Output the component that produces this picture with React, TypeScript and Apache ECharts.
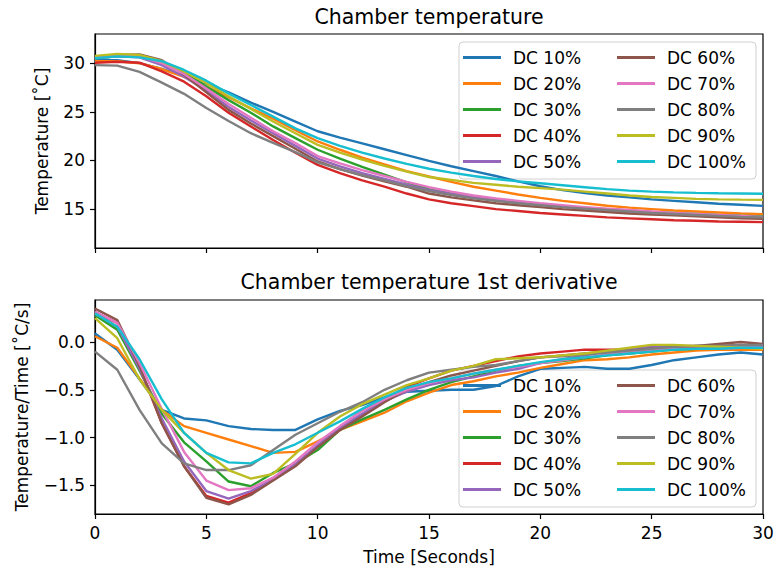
import React, { useEffect, useRef } from "react";
import * as echarts from "echarts";

const time = [0,1,2,3,4,5,6,7,8,9,10,11,12,13,14,15,16,17,18,19,20,21,22,23,24,25,26,27,28,29,30];
const names = ["DC 10%","DC 20%","DC 30%","DC 40%","DC 50%","DC 60%","DC 70%","DC 80%","DC 90%","DC 100%"];
const colors = ["#1f77b4","#ff7f0e","#2ca02c","#d62728","#9467bd","#8c564b","#e377c2","#7f7f7f","#bcbd22","#17becf"];

// Chamber temperature [°C]
const temp10 = [30.3,30.3,30.0,29.4,28.7,27.9,27.0,25.95,25.0,24.0,23.0,22.35,21.75,21.15,20.55,19.95,19.4,18.9,18.4,17.85,17.35,16.95,16.65,16.4,16.2,16.0,15.85,15.7,15.55,15.45,15.33];
const temp20 = [30.2,30.2,30.0,29.4,28.6,27.6,26.5,25.35,24.3,23.1,21.95,21.1,20.3,19.6,18.9,18.35,17.8,17.3,16.9,16.5,16.15,15.85,15.6,15.35,15.15,15.0,14.85,14.75,14.65,14.55,14.48];
const temp30 = [30.5,30.7,30.7,30.1,29.0,27.6,26.2,24.9,23.5,22.3,21.1,20.2,19.35,18.55,17.75,17.05,16.6,16.25,15.95,15.7,15.5,15.3,15.15,15.0,14.85,14.7,14.6,14.5,14.4,14.32,14.25];
const temp40 = [30.05,30.15,30.05,29.15,28.1,26.6,24.9,23.5,22.1,20.8,19.55,18.7,17.95,17.3,16.6,16.0,15.6,15.3,15.0,14.8,14.6,14.45,14.3,14.15,14.05,13.95,13.85,13.8,13.73,13.7,13.66];
const temp50 = [30.5,30.7,30.6,29.8,28.6,27.2,25.5,24.1,22.8,21.5,20.2,19.4,18.7,18.1,17.5,16.95,16.55,16.2,15.9,15.65,15.45,15.25,15.05,14.9,14.75,14.6,14.5,14.4,14.3,14.2,14.1];
const temp60 = [30.6,30.85,30.9,30.3,28.8,27.0,25.2,23.8,22.5,21.2,19.9,19.1,18.45,17.85,17.3,16.6,16.2,15.9,15.6,15.4,15.2,15.0,14.85,14.7,14.55,14.45,14.35,14.25,14.15,14.05,14.0];
const temp70 = [30.6,30.8,30.7,30.0,28.9,27.4,25.8,24.4,23.0,21.8,20.45,19.7,19.0,18.4,17.8,17.25,16.8,16.4,16.1,15.85,15.6,15.4,15.2,15.05,14.9,14.75,14.6,14.5,14.4,14.3,14.2];
const temp80 = [29.8,29.75,29.1,28.0,26.85,25.4,24.05,22.8,21.8,20.85,19.8,19.1,18.5,17.95,17.35,16.85,16.45,16.1,15.85,15.6,15.4,15.2,15.05,14.9,14.75,14.6,14.5,14.4,14.3,14.2,14.15];
const temp90 = [30.75,30.95,30.85,30.2,29.15,27.95,26.6,25.3,24.0,22.8,21.6,20.8,20.1,19.45,18.85,18.3,18.0,17.7,17.5,17.3,17.15,17.0,16.8,16.6,16.4,16.25,16.15,16.05,16.0,15.97,15.95];
const temp100 = [30.5,30.7,30.6,30.2,29.3,28.2,26.9,25.7,24.5,23.3,22.3,21.5,20.8,20.2,19.65,19.15,18.75,18.4,18.1,17.85,17.65,17.45,17.25,17.05,16.9,16.8,16.72,16.67,16.63,16.6,16.57];

// 1st derivative [°C/s]
const deriv10 = [0.09,-0.08,-0.39,-0.71,-0.80,-0.82,-0.88,-0.91,-0.92,-0.92,-0.81,-0.72,-0.66,-0.58,-0.52,-0.51,-0.50,-0.50,-0.46,-0.36,-0.28,-0.27,-0.26,-0.28,-0.28,-0.24,-0.19,-0.16,-0.13,-0.11,-0.13];
const deriv20 = [0.06,-0.06,-0.38,-0.71,-0.88,-0.95,-1.02,-1.09,-1.16,-1.15,-1.04,-0.92,-0.83,-0.74,-0.62,-0.53,-0.45,-0.41,-0.36,-0.32,-0.27,-0.23,-0.19,-0.18,-0.16,-0.13,-0.11,-0.09,-0.08,-0.08,-0.08];
const deriv30 = [0.28,0.13,-0.30,-0.75,-1.05,-1.25,-1.46,-1.51,-1.37,-1.27,-1.13,-0.92,-0.81,-0.71,-0.60,-0.50,-0.42,-0.36,-0.30,-0.25,-0.22,-0.20,-0.17,-0.14,-0.12,-0.10,-0.08,-0.07,-0.06,-0.06,-0.06];
const deriv40 = [0.31,0.20,-0.26,-0.85,-1.30,-1.61,-1.68,-1.58,-1.44,-1.28,-1.09,-0.92,-0.76,-0.60,-0.47,-0.38,-0.30,-0.25,-0.20,-0.15,-0.12,-0.10,-0.08,-0.08,-0.08,-0.07,-0.06,-0.05,-0.04,-0.03,-0.04];
const deriv50 = [0.30,0.16,-0.28,-0.80,-1.25,-1.56,-1.64,-1.56,-1.44,-1.28,-1.08,-0.90,-0.75,-0.62,-0.52,-0.45,-0.40,-0.37,-0.32,-0.28,-0.22,-0.18,-0.14,-0.10,-0.07,-0.05,-0.04,-0.04,-0.04,-0.05,-0.05];
const deriv60 = [0.35,0.23,-0.25,-0.85,-1.30,-1.63,-1.70,-1.60,-1.45,-1.30,-1.10,-0.92,-0.78,-0.63,-0.50,-0.42,-0.35,-0.30,-0.25,-0.20,-0.16,-0.14,-0.12,-0.10,-0.09,-0.07,-0.06,-0.04,-0.02,0.00,-0.02];
const deriv70 = [0.32,0.20,-0.22,-0.70,-1.15,-1.45,-1.55,-1.53,-1.42,-1.25,-1.05,-0.88,-0.72,-0.60,-0.50,-0.43,-0.38,-0.33,-0.29,-0.26,-0.22,-0.19,-0.16,-0.13,-0.10,-0.08,-0.07,-0.07,-0.07,-0.06,-0.06];
const deriv80 = [-0.10,-0.29,-0.71,-1.06,-1.27,-1.34,-1.34,-1.29,-1.13,-0.97,-0.85,-0.73,-0.63,-0.50,-0.40,-0.32,-0.29,-0.26,-0.24,-0.20,-0.16,-0.15,-0.13,-0.11,-0.09,-0.07,-0.05,-0.04,-0.04,-0.03,-0.03];
const deriv90 = [0.25,0.04,-0.39,-0.71,-0.95,-1.16,-1.34,-1.43,-1.38,-1.17,-0.95,-0.78,-0.65,-0.55,-0.45,-0.38,-0.30,-0.25,-0.18,-0.17,-0.16,-0.14,-0.12,-0.09,-0.06,-0.03,-0.03,-0.04,-0.05,-0.06,-0.07];
const deriv100 = [0.30,0.16,-0.18,-0.60,-0.95,-1.16,-1.26,-1.27,-1.16,-1.07,-0.95,-0.83,-0.70,-0.58,-0.48,-0.42,-0.38,-0.33,-0.29,-0.25,-0.21,-0.18,-0.16,-0.14,-0.12,-0.10,-0.08,-0.07,-0.07,-0.06,-0.06];

const xTicks = [0, 5, 10, 15, 20, 25, 30];
const yTicksTop = [15, 20, 25, 30];
const yTicksBottom = [-1.5, -1.0, -0.5, 0.0];

const temps = [temp10, temp20, temp30, temp40, temp50, temp60, temp70, temp80, temp90, temp100];
const derivs = [deriv10, deriv20, deriv30, deriv40, deriv50, deriv60, deriv70, deriv80, deriv90, deriv100];

const FONT = "DejaVu Sans";
const GL = 95, GW = 668;
const TOP1 = 34, TOP2 = 300, GH = 214;

export default function App() {
  const ref = useRef<HTMLDivElement>(null);
  useEffect(() => {
    if (!ref.current) return;
    const chart = echarts.init(ref.current, null, { renderer: "svg" });
    const axisCommon = {
      axisLine: { show: true, onZero: false, lineStyle: { color: "#000", width: 1.2 } },
      axisTick: { show: true, length: 5, inside: false, lineStyle: { color: "#000", width: 1.2 } },
      splitLine: { show: false },
    };
    const labelStyle = { fontFamily: FONT, fontSize: 17, color: "#000" };
    const fmt = (v: number) => (v < 0 ? "\u2212" + Math.abs(v).toFixed(1) : v.toFixed(1));
    const series: any[] = [];
    names.forEach((n, i) => {
      series.push({
        name: n, type: "line", xAxisIndex: 0, yAxisIndex: 0,
        data: time.map((t, k) => [t, temps[i][k]]),
        showSymbol: false, color: colors[i], lineStyle: { width: 2.4, color: colors[i] },
      });
    });
    names.forEach((n, i) => {
      series.push({
        name: n, type: "line", xAxisIndex: 1, yAxisIndex: 1,
        data: time.map((t, k) => [t, derivs[i][k]]),
        showSymbol: false, color: colors[i], lineStyle: { width: 2.4, color: colors[i] },
      });
    });
    const legendCommon = {
      orient: "vertical", itemGap: 9, itemWidth: 38, itemHeight: 3, icon: "rect", padding: 0,
      selectedMode: false, textStyle: { ...labelStyle, padding: [0, 0, 0, 7] },
    };
    const frame = (y: number) => ({
      type: "rect", z: 3, shape: { x: 459, y, width: 297, height: 137, r: 4 },
      style: { fill: "rgba(255,255,255,0.8)", stroke: "#d0d0d0", lineWidth: 1 },
    });
    const txt = (text: string, x: number, y: number, size: number, rot = 0) => ({
      type: "text", x, y, rotation: rot, z: 5,
      style: { text, fontFamily: FONT, fontSize: size, fill: "#000", align: "center", verticalAlign: "middle" },
    });
    chart.setOption({
      animation: false,
      grid: [
        { left: GL, top: TOP1, width: GW, height: GH, show: true, borderColor: "#000", borderWidth: 1.2, backgroundColor: "transparent" },
        { left: GL, top: TOP2, width: GW, height: GH, show: true, borderColor: "#000", borderWidth: 1.2, backgroundColor: "transparent" },
      ],
      xAxis: [
        { type: "value", gridIndex: 0, min: 0, max: 30, interval: 5, ...axisCommon,
          axisTick: { ...axisCommon.axisTick, customValues: xTicks },
          axisLabel: { show: false } },
        { type: "value", gridIndex: 1, min: 0, max: 30, interval: 5, ...axisCommon,
          axisTick: { ...axisCommon.axisTick, customValues: xTicks },
          axisLabel: { ...labelStyle, margin: 10, customValues: xTicks } },
      ],
      yAxis: [
        { type: "value", gridIndex: 0, min: 11, max: 33, ...axisCommon,
          axisTick: { ...axisCommon.axisTick, customValues: yTicksTop },
          axisLabel: { ...labelStyle, margin: 10, customValues: yTicksTop } },
        { type: "value", gridIndex: 1, min: -1.8, max: 0.44, ...axisCommon,
          axisTick: { ...axisCommon.axisTick, customValues: yTicksBottom },
          axisLabel: { ...labelStyle, margin: 10, customValues: yTicksBottom, formatter: fmt } },
      ],
      legend: [
        { ...legendCommon, data: names.slice(0, 5), left: 463, top: 49 },
        { ...legendCommon, data: names.slice(5), left: 617, top: 49 },
        { ...legendCommon, data: names.slice(0, 5), left: 463, top: 377 },
        { ...legendCommon, data: names.slice(5), left: 617, top: 377 },
      ],
      graphic: [
        frame(42),
        frame(370),
        txt("Chamber temperature", 429, 17, 20.5),
        txt("Chamber temperature 1st derivative", 429, 282, 20.5),
        txt("Time [Seconds]", 429, 557, 17),
        txt("Temperature [\u02DAC]", 42, 141, 17, Math.PI / 2),
        txt("Temperature/Time [\u02DAC/s]", 22, 407, 17, Math.PI / 2),
      ],
      series,
    });
    return () => chart.dispose();
  }, []);
  return <div ref={ref} style={{ position: "fixed", left: 0, top: 0, width: 778, height: 574, background: "#fff" }} />;
}
